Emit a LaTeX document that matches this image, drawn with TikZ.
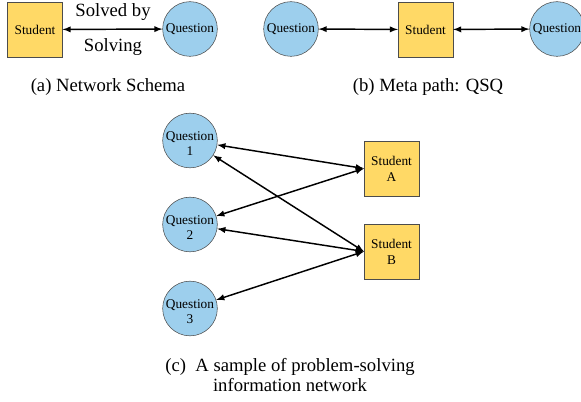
\documentclass[tikz,border=0pt]{standalone}
\usepackage{fontspec}
\setmainfont{Liberation Serif}
\usepackage{tikz}
\usetikzlibrary{positioning,arrows}
\definecolor{stuyellow}{RGB}{255,217,102}
\definecolor{qblue}{RGB}{157,207,237}
\tikzset{student/.style={draw=black!70,fill=stuyellow,minimum width=41pt,minimum height=41pt,inner sep=0pt,align=center,font=\fontsize{10}{12}\selectfont}}
\tikzset{question/.style={draw=black!70,fill=qblue,circle,minimum size=41pt,inner sep=0pt,align=center,font=\fontsize{10}{12}\selectfont}}
\tikzset{link/.style={latex-latex,line width=1.1pt}}
\tikzset{caption/.style={font=\fontsize{14}{15}\selectfont,align=center}}

\begin{document}
\begin{tikzpicture}[x=0.75pt,y=-0.75pt]
	\useasboundingbox (0,0) rectangle (581,402);

	% (a) network schema
	\node[student] (sa) at (35,29.5) {Student};
	\node[question] (qa) at (190,29) {Question};
	\draw[link] (sa) -- (qa);
	\node[caption] (solvedby) at (113,12) {Solved by};
	\node[caption] (solving) at (113,47) {Solving};
	\node[caption] (capa) at (108,87) {(a) Network Schema};

	% (b) meta path
	\node[question] (qb1) at (291,29) {Question};
	\node[student] (sb) at (425.5,29.5) {Student};
	\node[question] (qb2) at (557,29) {Question};
	\draw[link] (qb1) -- (sb);
	\draw[link] (sb) -- (qb2);
	\node[caption] (capb) at (428,87) {(b) Meta path: QSQ};

	% (c) sample network
	\node[question] (q1) at (190,140.5) {\raisebox{-2.5pt}[\height][\depth]{\shortstack{Question\\1}}};
	\node[question] (q2) at (190,224.5) {\raisebox{-2.5pt}[\height][\depth]{\shortstack{Question\\2}}};
	\node[question] (q3) at (190,308.5) {\raisebox{-2.5pt}[\height][\depth]{\shortstack{Question\\3}}};
	\node[student] (stA) at (391.5,168.5) {Student\\A};
	\node[student] (stB) at (391.5,251.5) {Student\\B};
	\draw[link] (q1) -- (stA.west);
	\draw[link] (q1) -- (stB.west);
	\draw[link] (q2) -- (stA.west);
	\draw[link] (q2) -- (stB.west);
	\draw[link] (q3) -- (stB.west);
	\node[caption] (capc) at (290,375) {(c)\ \ A sample of problem-solving\\information network};
\end{tikzpicture}
\end{document}
